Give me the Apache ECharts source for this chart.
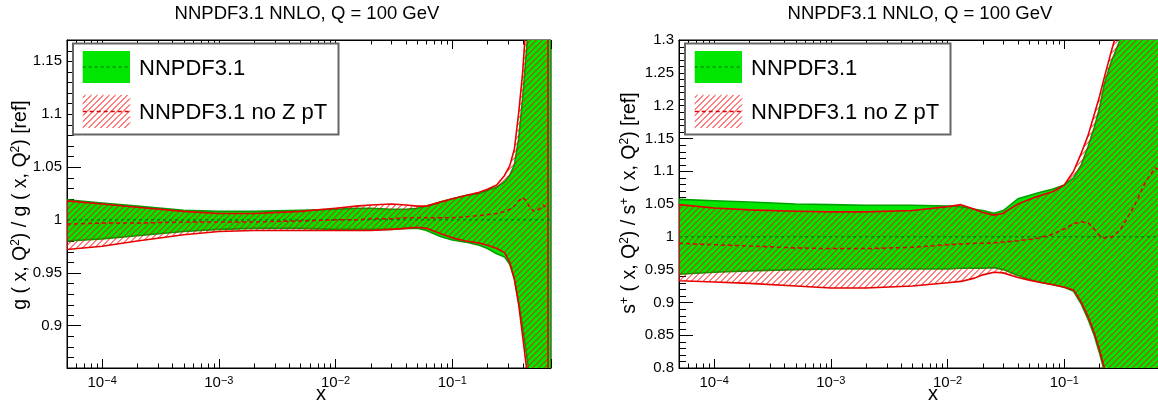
<!DOCTYPE html>
<html>
<head>
<meta charset="utf-8">
<script src="https://cdn.jsdelivr.net/npm/echarts@6/dist/echarts.min.js"></script>
<style>
html, body { margin: 0; padding: 0; background: #ffffff; overflow: hidden; }
#chart { width: 1158px; height: 403px; }
</style>
</head>
<body>
<div id="chart"></div>
<script>
// ================= DATA =================
const plotTitle = 'NNPDF3.1 NNLO, Q = 100 GeV';
const legendLabels = ['NNPDF3.1', 'NNPDF3.1 no Z pT'];
const xRange = [5e-5, 0.7];
const gYRange = [0.86, 1.17];
const sYRange = [0.8, 1.3];

// ---- left panel: gluon ratio ----
const gX       = [5e-5, 1e-4, 2e-4, 5e-4, 1e-3, 2e-3, 5e-3, 1e-2, 1.5e-2, 2e-2, 3e-2, 4e-2, 5e-2, 6e-2, 8e-2, 0.1, 0.13, 0.17, 0.2, 0.24, 0.28, 0.31, 0.34, 0.37, 0.4, 0.43, 0.46, 0.5, 0.55, 0.6, 0.66, 0.7];
const gGreenUp = [1.019, 1.016, 1.013, 1.009, 1.008, 1.008, 1.009, 1.010, 1.011, 1.011, 1.010, 1.010, 1.011, 1.013, 1.017, 1.020, 1.023, 1.025, 1.028, 1.031, 1.036, 1.042, 1.052, 1.077, 1.115, 1.158, 1.20, 1.30, 1.5, 1.8, 2.2, 2.5];
const gGreenLo = [0.980, 0.982, 0.985, 0.989, 0.991, 0.992, 0.992, 0.991, 0.991, 0.991, 0.991, 0.992, 0.992, 0.990, 0.984, 0.981, 0.979, 0.976, 0.973, 0.968, 0.965, 0.958, 0.944, 0.922, 0.899, 0.874, 0.85, 0.80, 0.7, 0.6, 0.5, 0.4];
const gRedX    = [5e-5, 1e-4, 2e-4, 5e-4, 1e-3, 2e-3, 5e-3, 1e-2, 1.5e-2, 2e-2, 3e-2, 4e-2, 5e-2, 6e-2, 8e-2, 0.1, 0.13, 0.17, 0.2, 0.24, 0.28, 0.31, 0.34, 0.37, 0.4, 0.43, 0.46, 0.5, 0.55, 0.6, 0.66];
const gRedUp   = [1.018, 1.015, 1.012, 1.008, 1.006, 1.006, 1.008, 1.011, 1.013, 1.014, 1.015, 1.014, 1.013, 1.013, 1.017, 1.020, 1.023, 1.026, 1.029, 1.033, 1.042, 1.051, 1.067, 1.101, 1.139, 1.19, 1.25, 1.4, 1.7, 2.0, 2.2];
const gRedLo   = [0.972, 0.975, 0.980, 0.986, 0.989, 0.990, 0.990, 0.990, 0.990, 0.990, 0.991, 0.992, 0.993, 0.992, 0.987, 0.983, 0.980, 0.978, 0.976, 0.973, 0.969, 0.960, 0.944, 0.920, 0.890, 0.862, 0.80, 0.7, 0.6, 0.5, 0.4];
const gRedMid  = [0.996, 0.997, 0.997, 0.998, 0.998, 0.998, 0.999, 1.000, 1.000, 1.001, 1.001, 1.002, 1.002, 1.002, 1.002, 1.002, 1.003, 1.004, 1.005, 1.006, 1.008, 1.010, 1.013, 1.018, 1.021, 1.018, 1.012, 1.008, 1.010, 1.014, 1.010];
const gGreenMidX = [5e-5, 0.7];
const gGreenMid  = [1.0, 1.0];

// ---- right panel: s+ ratio ----
const sX       = [5e-5, 1e-4, 2e-4, 5e-4, 1e-3, 2e-3, 5e-3, 1e-2, 1.3e-2, 1.7e-2, 2e-2, 2.5e-2, 3e-2, 4e-2, 5e-2, 6e-2, 8e-2, 0.1, 0.12, 0.14, 0.16, 0.18, 0.2, 0.22, 0.25, 0.3, 0.4, 0.5, 0.6, 0.7];
const sGreenUp = [1.057, 1.055, 1.053, 1.050, 1.049, 1.048, 1.048, 1.047, 1.046, 1.042, 1.040, 1.036, 1.040, 1.058, 1.063, 1.067, 1.073, 1.079, 1.090, 1.110, 1.138, 1.166, 1.196, 1.233, 1.265, 1.30, 1.45, 1.6, 1.8, 1.9];
const sGreenLo = [0.943, 0.946, 0.948, 0.950, 0.951, 0.951, 0.951, 0.951, 0.952, 0.952, 0.952, 0.953, 0.950, 0.941, 0.935, 0.931, 0.927, 0.923, 0.917, 0.897, 0.874, 0.850, 0.823, 0.795, 0.75, 0.68, 0.55, 0.45, 0.4, 0.35];
const sRedUp   = [1.049, 1.044, 1.041, 1.039, 1.038, 1.038, 1.040, 1.046, 1.049, 1.042, 1.037, 1.033, 1.036, 1.050, 1.057, 1.062, 1.069, 1.079, 1.100, 1.128, 1.155, 1.186, 1.214, 1.243, 1.28, 1.33, 1.5, 1.7, 1.9, 2.0];
const sRedLo   = [0.933, 0.931, 0.929, 0.925, 0.922, 0.922, 0.925, 0.930, 0.932, 0.937, 0.942, 0.946, 0.945, 0.938, 0.934, 0.931, 0.927, 0.923, 0.919, 0.900, 0.878, 0.854, 0.828, 0.80, 0.75, 0.68, 0.55, 0.45, 0.4, 0.35];
const sRedMid  = [0.990, 0.988, 0.986, 0.983, 0.982, 0.982, 0.984, 0.988, 0.989, 0.990, 0.990, 0.991, 0.992, 0.994, 0.996, 0.998, 1.004, 1.012, 1.020, 1.023, 1.021, 1.012, 1.002, 0.998, 0.999, 1.010, 1.048, 1.085, 1.105, 1.10];
const sGreenMidX = [5e-5, 0.7];
const sGreenMid  = [1.0, 1.0];

// ================= STYLE =================
const FONT = '"Liberation Sans", Arial, Helvetica, sans-serif';
const GREEN = '#00e600';
const GREEN_EDGE = '#00a000';
const GREEN_MID = '#006e00';
const RED = '#ff0000';
const RED_EDGE = '#e60000';
const HATCH_STEP = 6;

// diagonal "/" hatch segments inside a polygon (pixel coordinates)
function hatchSegments(pts, step) {
  let minC = Infinity, maxC = -Infinity;
  pts.forEach(function (p) { const c = p[0] + p[1]; if (c < minC) minC = c; if (c > maxC) maxC = c; });
  const segs = [];
  for (let c = Math.ceil(minC / step) * step + 0.5; c <= maxC; c += step) {
    const xs = [];
    for (let i = 0; i < pts.length; i++) {
      const a = pts[i], b = pts[(i + 1) % pts.length];
      const fa = a[0] + a[1] - c, fb = b[0] + b[1] - c;
      if ((fa < 0 && fb >= 0) || (fa >= 0 && fb < 0)) {
        const t = fa / (fa - fb);
        xs.push(a[0] + t * (b[0] - a[0]));
      }
    }
    xs.sort(function (u, v) { return u - v; });
    for (let k = 0; k + 1 < xs.length; k += 2) segs.push([xs[k], c - xs[k], xs[k + 1], c - xs[k + 1]]);
  }
  return segs;
}
function hatchLines(segs, z) {
  return segs.map(function (s) {
    const el = { type: 'line', shape: { x1: s[0], y1: s[1], x2: s[2], y2: s[3] }, style: { stroke: RED, lineWidth: 1 } };
    if (z !== undefined) el.z = z;
    return el;
  });
}

const panels = [
  { x: gX, gu: gGreenUp, gl: gGreenLo, rx: gRedX, ru: gRedUp, rl: gRedLo, rm: gRedMid, gmx: gGreenMidX, gm: gGreenMid, yr: gYRange,
    left: 67, titleX: 307, legendX: 73, yTitleX: 21, yTitleY: 205, xTitleX: 321,
    yTitle: '{n|g ( x, Q}{s|2}{n|) / g ( x, Q}{s|2}{n|) [ref]}' },
  { x: sX, gu: sGreenUp, gl: sGreenLo, rx: sX, ru: sRedUp, rl: sRedLo, rm: sRedMid, gmx: sGreenMidX, gm: sGreenMid, yr: sYRange,
    left: 679, titleX: 920, legendX: 685, yTitleX: 630, yTitleY: 203, xTitleX: 933,
    yTitle: '{n|s}{s|+}{n| ( x, Q}{s|2}{n|) / s}{s|+}{n| ( x, Q}{s|2}{n|) [ref]}' }
];
const GRID_TOP = 40, GRID_W = 484, GRID_H = 328;

function logMinor(min, max) {
  const out = [];
  for (let e = -6; e <= 1; e++) for (let m = 2; m <= 9; m++) {
    const v = m * Math.pow(10, e);
    if (v > min * 1.0001 && v < max * 0.9999) out.push(v);
  }
  return out;
}
function linMinor(min, max, step, major) {
  const out = [];
  for (let k = Math.ceil(min / step - 1e-9); k * step <= max + 1e-9; k++) {
    const v = +(k * step).toFixed(4);
    if (Math.abs(v / major - Math.round(v / major)) > 1e-6 && v > min + 1e-9 && v < max - 1e-9) out.push(v);
  }
  return out;
}

function bandPoints(api, xs, up, lo) {
  const pts = [];
  for (let i = 0; i < xs.length; i++) pts.push(api.coord([xs[i], up[i]]));
  for (let i = xs.length - 1; i >= 0; i--) pts.push(api.coord([xs[i], lo[i]]));
  return pts;
}
function greenBandSeries(p, xs, up, lo) {
  return {
    type: 'custom', xAxisIndex: 2 * p, yAxisIndex: p, z: 2, clip: true, silent: true,
    data: xs.map(function (x, i) { return [x, up[i], lo[i]]; }),
    encode: { x: 0, y: [1, 2] },
    renderItem: function (params, api) {
      if (params.dataIndex !== 0) return null;
      return { type: 'polygon', shape: { points: bandPoints(api, xs, up, lo) },
               style: { fill: GREEN, stroke: GREEN_EDGE, lineWidth: 1.6, lineJoin: 'round' } };
    }
  };
}
function redBandSeries(p, xs, up, lo) {
  return {
    type: 'custom', xAxisIndex: 2 * p, yAxisIndex: p, z: 3, clip: true, silent: true,
    data: xs.map(function (x, i) { return [x, up[i], lo[i]]; }),
    encode: { x: 0, y: [1, 2] },
    renderItem: function (params, api) {
      if (params.dataIndex !== 0) return null;
      const pts = bandPoints(api, xs, up, lo);
      const children = hatchLines(hatchSegments(pts, HATCH_STEP));
      children.push({ type: 'polygon', shape: { points: pts },
                      style: { fill: null, stroke: RED_EDGE, lineWidth: 1.6, lineJoin: 'round' } });
      return { type: 'group', children: children };
    }
  };
}
function lineSeries(p, xs, ys, color, dash, width, z) {
  return {
    type: 'line', xAxisIndex: 2 * p, yAxisIndex: p, z: z, silent: true, symbol: 'none', clip: true,
    data: xs.map(function (x, i) { return [x, ys[i]]; }),
    lineStyle: { color: color, width: width, type: dash }
  };
}
function minorXSeries(p) {
  return {
    type: 'custom', xAxisIndex: 2 * p, yAxisIndex: p, z: 1, silent: true,
    data: logMinor(xRange[0], xRange[1]).map(function (v) { return [v, 1]; }),
    encode: { x: 0, y: 1 },
    renderItem: function (params, api) {
      const cs = params.coordSys;
      const px = Math.round(api.coord([api.value(0), 1])[0]) + 0.5;
      const b = cs.y + cs.height, t = cs.y;
      return { type: 'group', children: [
        { type: 'line', shape: { x1: px, y1: b, x2: px, y2: b - 4.5 }, style: { stroke: '#000', lineWidth: 1 } },
        { type: 'line', shape: { x1: px, y1: t, x2: px, y2: t + 4.5 }, style: { stroke: '#000', lineWidth: 1 } }
      ] };
    }
  };
}
function minorYSeries(p, yr) {
  return {
    type: 'custom', xAxisIndex: 2 * p, yAxisIndex: p, z: 1, silent: true,
    data: linMinor(yr[0], yr[1], 0.01, 0.05).map(function (v) { return [1e-3, v]; }),
    encode: { x: 0, y: 1 },
    renderItem: function (params, api) {
      const cs = params.coordSys;
      const py = Math.round(api.coord([1e-3, api.value(1)])[1]) + 0.5;
      return { type: 'line', shape: { x1: cs.x, y1: py, x2: cs.x + 7, y2: py }, style: { stroke: '#000', lineWidth: 1 } };
    }
  };
}

const grid = [], xAxis = [], yAxis = [], series = [], graphic = [];

panels.forEach(function (P, p) {
  grid.push({ left: P.left, top: GRID_TOP, width: GRID_W, height: GRID_H, show: true,
              borderColor: '#000', borderWidth: 1, backgroundColor: 'transparent', containLabel: false, outerBoundsMode: 'none' });
  xAxis.push({
    gridIndex: p, type: 'log', logBase: 10, min: xRange[0], max: xRange[1], position: 'bottom',
    axisLine: { show: true, onZero: false, lineStyle: { color: '#000' } },
    axisTick: { show: true, inside: true, length: 9, lineStyle: { color: '#000' } },
    splitLine: { show: false }, minorTick: { show: false },
    axisLabel: {
      show: true, margin: 7, color: '#000', fontFamily: FONT, fontSize: 15, lineHeight: 16,
      formatter: function (v) {
        const l = Math.log10(v), r = Math.round(l);
        if (Math.abs(l - r) > 1e-6) return '';
        return '10{s|' + (r < 0 ? '\u2212' + (-r) : String(r)) + '}';
      },
      rich: { s: { fontFamily: FONT, fontSize: 11, lineHeight: 9, verticalAlign: 'top', color: '#000' } }
    }
  });
  xAxis.push({
    gridIndex: p, type: 'log', logBase: 10, min: xRange[0], max: xRange[1], position: 'top',
    axisLine: { show: true, onZero: false, lineStyle: { color: '#000' } },
    axisTick: { show: true, inside: true, length: 9, lineStyle: { color: '#000' } },
    axisLabel: { show: false }, splitLine: { show: false }
  });
  const yA = {
    gridIndex: p, type: 'value', min: P.yr[0], max: P.yr[1], position: 'left',
    axisLine: { show: true, onZero: false, lineStyle: { color: '#000' } },
    axisTick: { show: true, inside: true, length: 14, lineStyle: { color: '#000' } },
    splitLine: { show: false },
    axisLabel: {
      show: true, margin: 5, color: '#000', fontFamily: FONT, fontSize: 15,
      formatter: function (v) {
        const r = Math.round(v / 0.05);
        if (Math.abs(v - r * 0.05) > 1e-6) return '';
        return String(+(r * 0.05).toFixed(2));
      }
    }
  };
  if (p === 1) yA.interval = 0.05;
  yAxis.push(yA);

  series.push(minorXSeries(p));
  series.push(minorYSeries(p, P.yr));
  series.push(greenBandSeries(p, P.x, P.gu, P.gl));
  series.push(redBandSeries(p, P.rx, P.ru, P.rl));
  series.push(lineSeries(p, P.gmx, P.gm, GREEN_MID, [3, 3], 1, 4));
  series.push(lineSeries(p, P.rx, P.rm, '#dd0000', [4, 3], 1.5, 5));

  // title
  graphic.push({ type: 'text', x: P.titleX, y: 13.5, z: 100,
    style: { text: plotTitle, fontFamily: FONT, fontSize: 18.5, fill: '#000', align: 'center', verticalAlign: 'middle' } });
  // y title
  graphic.push({ type: 'text', x: P.yTitleX, y: P.yTitleY, rotation: Math.PI / 2, z: 100,
    style: { text: P.yTitle, align: 'center', verticalAlign: 'middle', fill: '#000',
      rich: { n: { fontFamily: FONT, fontSize: 19.5, lineHeight: 22, fill: '#000' },
              s: { fontFamily: FONT, fontSize: 12, lineHeight: 12, verticalAlign: 'top', fill: '#000' } } } });
  // x title
  graphic.push({ type: 'text', x: P.xTitleX, y: 394, z: 100,
    style: { text: 'x', fontFamily: FONT, fontSize: 20, fill: '#000', align: 'center', verticalAlign: 'middle' } });
  // legend
  const L = P.legendX;
  graphic.push({ type: 'rect', z: 100, shape: { x: L, y: 43.5, width: 265.5, height: 91 },
    style: { fill: '#fff', stroke: '#666', lineWidth: 2 } });
  graphic.push({ type: 'rect', z: 101, shape: { x: L + 9.7, y: 51, width: 47.3, height: 32 }, style: { fill: GREEN } });
  graphic.push({ type: 'line', z: 102, shape: { x1: L + 9.7, y1: 67, x2: L + 57, y2: 67 },
    style: { stroke: GREEN_MID, lineWidth: 1, lineDash: [3, 3] } });
  const sw = [[L + 9.7, 95], [L + 57, 95], [L + 57, 128], [L + 9.7, 128]];
  graphic.push({ type: 'group', z: 101, children: hatchLines(hatchSegments(sw, HATCH_STEP), 101) });
  graphic.push({ type: 'line', z: 102, shape: { x1: L + 9.7, y1: 111.5, x2: L + 57, y2: 111.5 },
    style: { stroke: '#dd0000', lineWidth: 1.5, lineDash: [4, 3] } });
  graphic.push({ type: 'text', x: L + 66, y: 68.5, z: 102,
    style: { text: legendLabels[0], fontFamily: FONT, fontSize: 22, fill: '#000', align: 'left', verticalAlign: 'middle' } });
  graphic.push({ type: 'text', x: L + 66, y: 112.5, z: 102,
    style: { text: legendLabels[1], fontFamily: FONT, fontSize: 22, fill: '#000', align: 'left', verticalAlign: 'middle' } });
});

const chart = echarts.init(document.getElementById('chart'), null, { renderer: 'canvas' });
chart.setOption({
  animation: false,
  backgroundColor: '#ffffff',
  textStyle: { fontFamily: FONT },
  grid: grid, xAxis: xAxis, yAxis: yAxis, series: series, graphic: graphic
});
</script>
</body>
</html>
